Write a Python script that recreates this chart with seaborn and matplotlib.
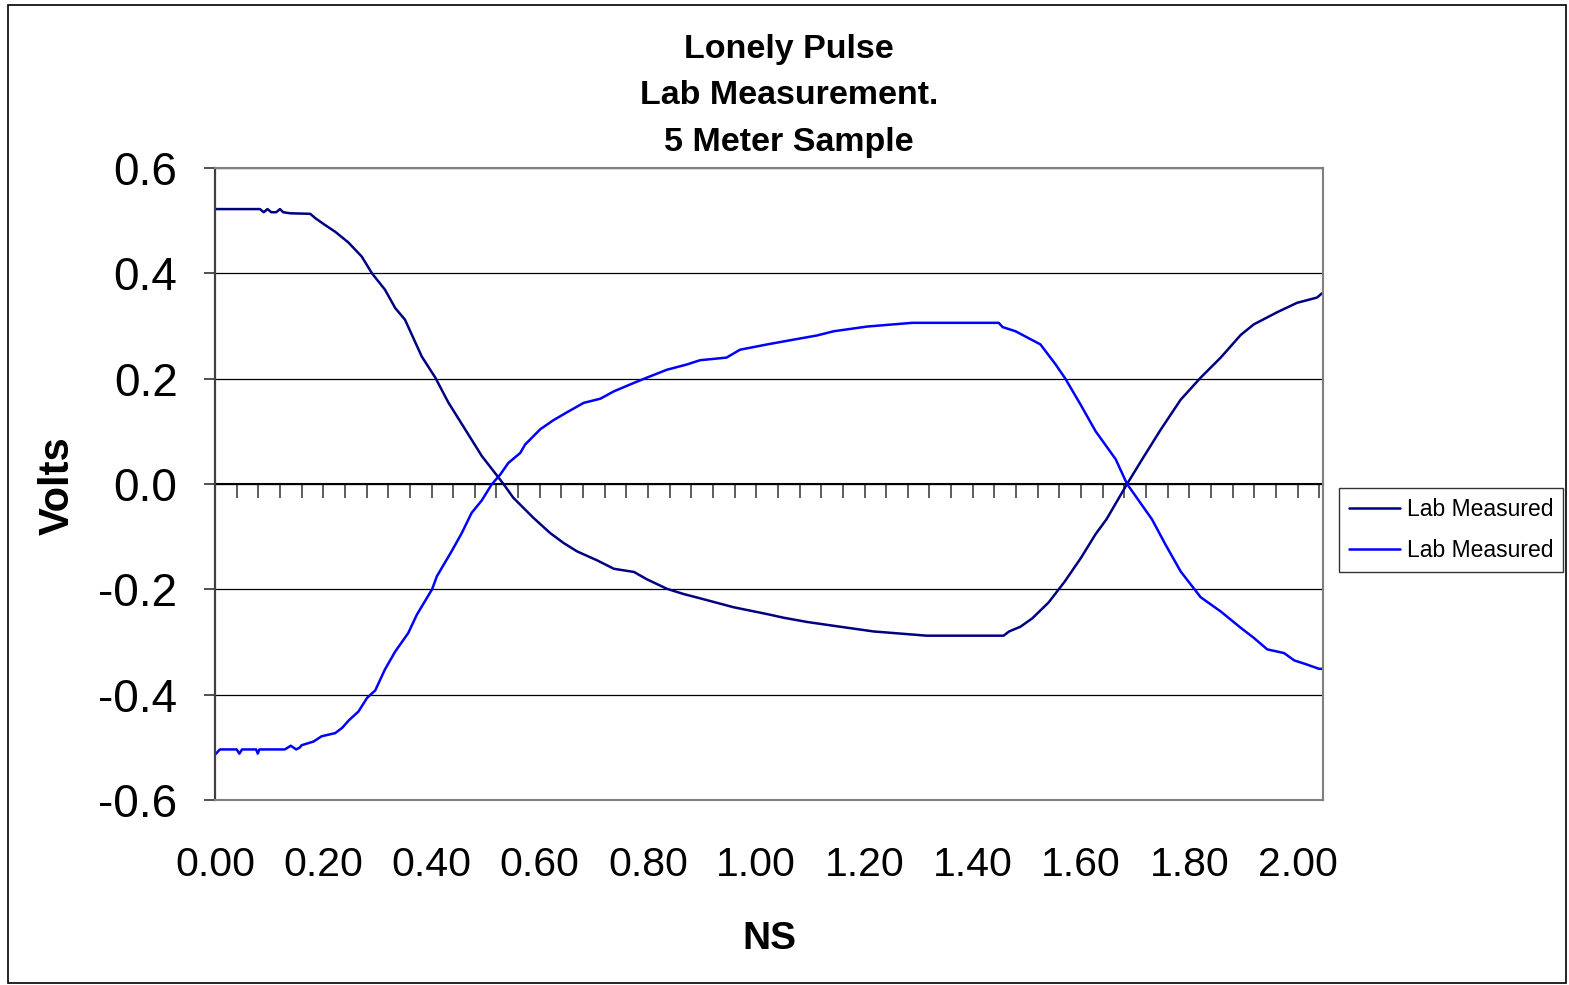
import matplotlib
matplotlib.use("Agg")
import matplotlib.pyplot as plt
import seaborn as sns
import numpy as np
import pandas as pd
from matplotlib.patches import Rectangle
from matplotlib.ticker import MultipleLocator, FuncFormatter, NullFormatter

# ---- data ----
ns_dark = [0.000, 0.083, 0.090, 0.097, 0.104, 0.113, 0.120, 0.126, 0.139, 0.176,
           0.185, 0.203, 0.222, 0.246, 0.271, 0.290, 0.314, 0.333, 0.351, 0.382,
           0.407, 0.431, 0.462, 0.493, 0.524, 0.533, 0.551, 0.588, 0.619, 0.644,
           0.669, 0.706, 0.737, 0.774, 0.798, 0.835, 0.866, 0.896, 0.958, 1.020,
           1.051, 1.094, 1.155, 1.217, 1.315, 1.457, 1.467, 1.488, 1.510, 1.540,
           1.570, 1.600, 1.627, 1.647, 1.685, 1.713, 1.747, 1.784, 1.821, 1.858,
           1.895, 1.919, 1.962, 1.999, 2.036, 2.045]
volts_dark = [0.522, 0.522, 0.516, 0.522, 0.516, 0.516, 0.522, 0.516, 0.514, 0.513,
              0.505, 0.492, 0.479, 0.459, 0.432, 0.400, 0.369, 0.334, 0.312, 0.242,
              0.202, 0.155, 0.104, 0.053, 0.012, 0.000, -0.026, -0.064, -0.093, -0.112,
              -0.128, -0.145, -0.161, -0.167, -0.181, -0.199, -0.209, -0.217, -0.234, -0.247,
              -0.254, -0.262, -0.271, -0.280, -0.288, -0.288, -0.280, -0.271, -0.255, -0.225,
              -0.185, -0.140, -0.095, -0.067, 0.000, 0.047, 0.103, 0.160, 0.202, 0.240,
              0.283, 0.303, 0.326, 0.344, 0.354, 0.362]

ns_blue = [0.000, 0.009, 0.040, 0.045, 0.050, 0.055, 0.076, 0.079, 0.082, 0.129,
           0.140, 0.150, 0.157, 0.160, 0.182, 0.197, 0.222, 0.235, 0.247, 0.265,
           0.281, 0.296, 0.314, 0.333, 0.357, 0.373, 0.401, 0.410, 0.437, 0.456,
           0.474, 0.493, 0.511, 0.527, 0.542, 0.564, 0.573, 0.601, 0.625, 0.650,
           0.681, 0.712, 0.737, 0.774, 0.798, 0.835, 0.872, 0.896, 0.945, 0.970,
           1.020, 1.063, 1.112, 1.143, 1.205, 1.288, 1.448, 1.455, 1.479, 1.525,
           1.553, 1.571, 1.599, 1.627, 1.664, 1.685, 1.731, 1.756, 1.784, 1.821,
           1.858, 1.895, 1.919, 1.944, 1.975, 1.994, 2.015, 2.040, 2.047]
volts_blue = [-0.514, -0.504, -0.504, -0.512, -0.504, -0.504, -0.504, -0.512, -0.504, -0.504,
              -0.497, -0.504, -0.500, -0.496, -0.489, -0.479, -0.473, -0.463, -0.449, -0.432,
              -0.406, -0.392, -0.352, -0.318, -0.283, -0.248, -0.200, -0.175, -0.128, -0.093,
              -0.055, -0.031, -0.001, 0.018, 0.040, 0.059, 0.075, 0.104, 0.121, 0.136,
              0.154, 0.162, 0.176, 0.192, 0.202, 0.217, 0.227, 0.235, 0.240, 0.255,
              0.265, 0.273, 0.282, 0.290, 0.299, 0.306, 0.306, 0.298, 0.290, 0.265,
              0.227, 0.200, 0.151, 0.100, 0.047, 0.000, -0.067, -0.115, -0.166, -0.215,
              -0.242, -0.273, -0.292, -0.314, -0.321, -0.335, -0.342, -0.351, -0.351]

series_label = "Lab Measured"
title_lines = ["Lonely Pulse", "Lab Measurement.", "5 Meter Sample"]
x_label = "NS"
y_label = "Volts"
x_ticks = [0.0, 0.2, 0.4, 0.6, 0.8, 1.0, 1.2, 1.4, 1.6, 1.8, 2.0]
y_ticks = [-0.6, -0.4, -0.2, 0.0, 0.2, 0.4, 0.6]

# ---- style ----
sns.set_theme(style="white")
plt.rcParams["font.family"] = ["Liberation Sans", "DejaVu Sans"]
plt.rcParams["axes.unicode_minus"] = False
plt.rcParams["text.color"] = "black"
plt.rcParams["axes.labelcolor"] = "black"
plt.rcParams["xtick.color"] = "black"
plt.rcParams["ytick.color"] = "black"

W, H = 1569, 985
fig = plt.figure(figsize=(W / 100, H / 100), dpi=100)
fig.patch.set_facecolor("white")
L, R, T, B = 215, 1323, 168, 800
ax = fig.add_axes([L / W, 1 - B / H, (R - L) / W, (B - T) / H])

sns.lineplot(x=ns_dark, y=volts_dark, color="#000080", lw=1.8, label=series_label,
             ax=ax, sort=False)
sns.lineplot(x=ns_blue, y=volts_blue, color="#0000FF", lw=1.8, label=series_label,
             ax=ax, sort=False)

ax.set_xlim(0, 2.047)
ax.set_ylim(-0.6, 0.6)

# gridlines
ax.set_yticks(y_ticks)
ax.yaxis.grid(True, color="black", lw=0.9)
ax.xaxis.grid(False)
ax.set_axisbelow(True)

# x labels at bottom without tick marks
ax.set_xticks(x_ticks)
ax.xaxis.set_major_formatter(FuncFormatter(lambda v, p: f"{v:.2f}"))
ax.yaxis.set_major_formatter(FuncFormatter(lambda v, p: f"{v:.1f}"))
ax.tick_params(axis="x", length=0, pad=33, labelsize=29.5, labelcolor="black")
ax.tick_params(axis="y", direction="out", length=8, width=1.2, color="#333333",
               pad=19, labelsize=33, left=True, labelcolor="black")

for side in ["top", "right", "bottom"]:
    ax.spines[side].set_visible(True)
    ax.spines[side].set_color("#808080")
    ax.spines[side].set_linewidth(1.5)
ax.spines["left"].set_color("#404040")
ax.spines["left"].set_linewidth(1.6)

# zero-line axis with small tick marks pointing down
sec = ax.secondary_xaxis(0.5)
sec.xaxis.set_major_locator(MultipleLocator(0.04))
sec.xaxis.set_major_formatter(NullFormatter())
sec.xaxis.set_ticks_position("bottom")
sec.tick_params(axis="x", which="both", direction="out", length=10, width=1.1,
                color="#333333", labelbottom=False, labeltop=False,
                bottom=True, top=False)
for s in sec.spines.values():
    s.set_color("black")
    s.set_linewidth(1.5)

# labels
ax.set_xlabel(x_label, fontsize=28, fontweight="bold")
ax.xaxis.set_label_coords(0.5, (B - 939) / (B - T))
ax.xaxis.label.set_va("center")
ax.set_ylabel(y_label, fontsize=30, fontweight="bold")
ax.yaxis.set_label_coords((58 - L) / (R - L), (B - 486) / (B - T))
ax.yaxis.label.set_va("center")

fig.text(789 / W, 1 - 96 / H, "\n".join(title_lines), ha="center", va="center",
         fontsize=24.5, fontweight="bold", linespacing=1.63, color="black")

leg = ax.legend(loc="center left", bbox_to_anchor=(1339 / W, 1 - 530 / H),
                bbox_transform=fig.transFigure, borderaxespad=0, frameon=True,
                fancybox=False, edgecolor="black", fontsize=16.5,
                handlelength=2.2, handletextpad=0.3, labelspacing=0.8,
                borderpad=0.45)
leg.get_frame().set_linewidth(1.0)
for t in leg.get_texts():
    t.set_color("black")

# outer chart border
fig.patches.append(Rectangle((8 / W, 1 - 983 / H), (1566 - 8) / W, (983 - 5) / H,
                             transform=fig.transFigure, fill=False,
                             edgecolor="black", lw=1.2))

fig.savefig("out.png", dpi=100, facecolor="white")
